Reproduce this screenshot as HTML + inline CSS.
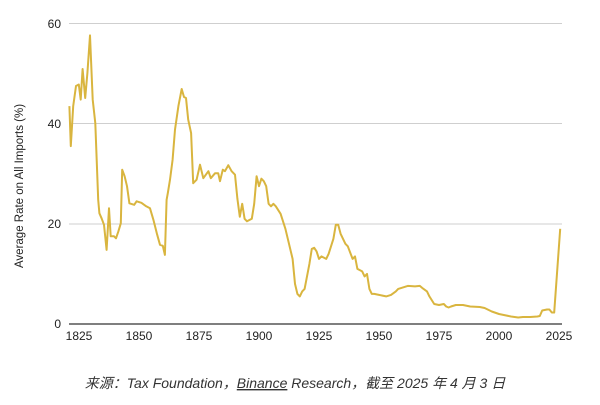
<!DOCTYPE html>
<html><head><meta charset="utf-8"><style>
body{margin:0;background:#fff;width:600px;height:405px;overflow:hidden}
svg{display:block}
text{font-family:"Liberation Sans",Arial,sans-serif;fill:#222}
</style></head><body>
<svg id="c" width="600" height="405" viewBox="0 0 600 405">
<g stroke="#cfcfcf" stroke-width="1">
<line x1="69" y1="23.5" x2="562" y2="23.5"/>
<line x1="69" y1="123.5" x2="562" y2="123.5"/>
<line x1="69" y1="224" x2="562" y2="224"/>
</g>
<line x1="69" y1="324" x2="562" y2="324" stroke="#333" stroke-width="1.2"/>
<g font-size="12" text-anchor="end">
<text x="61" y="28">60</text><text x="61" y="128">40</text><text x="61" y="228">20</text><text x="61" y="328">0</text>
</g>
<g font-size="12" text-anchor="middle">
<text x="79" y="340">1825</text><text x="139" y="340">1850</text><text x="199" y="340">1875</text><text x="259" y="340">1900</text><text x="319" y="340">1925</text><text x="379" y="340">1950</text><text x="439" y="340">1975</text><text x="499" y="340">2000</text><text x="559" y="340">2025</text>
</g>
<text transform="translate(23,186) rotate(-90)" font-size="11.5" text-anchor="middle">Average Rate on All Imports (%)</text>
<polyline id="p" fill="none" stroke="#d9b53f" stroke-width="2" stroke-linejoin="round"/>
<text x="295" y="388" font-size="14" font-style="italic" text-anchor="middle" style="font-family:'Liberation Sans','Noto Sans CJK SC',sans-serif;fill:#333">来源：Tax Foundation，<tspan text-decoration="underline">Binance</tspan> Research，截至 2025 年 4 月 3 日</text>
</svg>
<script>
var d=[1821,43.5,1821.6,35.5,1822.6,43.5,1823.75,47.5,1824.9,47.8,1825.7,44.8,1826.5,50.9,1827.6,45.1,1828.5,50.1,1829.6,57.6,1830.7,44.8,1831.8,40.1,1833,24.8,1833.5,22.1,1834.4,21.1,1835.4,19.8,1836.5,14.8,1837.5,23.1,1838.2,17.5,1839.6,17.5,1840.4,17.1,1841.4,18.5,1842.4,20.1,1843,30.8,1844,29.5,1845,27.5,1846,24.1,1848,23.8,1849,24.5,1851,24.2,1853,23.5,1854.6,23.1,1856,20.8,1857.4,18.1,1858.75,15.8,1859.9,15.6,1860.8,13.8,1861.5,24.8,1862,26.1,1862.9,28.8,1864,32.8,1865,38.8,1866.4,43.5,1867.8,46.9,1868.75,45.3,1869.6,45.1,1870.5,40.8,1871.7,38.1,1872.6,28.1,1874,28.8,1875.4,31.8,1876.8,29.1,1878.9,30.5,1879.9,29.1,1881.7,30.1,1883,30.1,1883.75,28.5,1884.9,30.8,1885.8,30.5,1887.2,31.7,1888.6,30.5,1890,29.8,1891,25,1892,21.4,1893,24,1894,21,1895,20.5,1897,21,1898,24,1899,29.5,1900,27.5,1901,29,1902,28.5,1903,27.5,1904,24,1905,23.5,1906,24,1907,23.5,1909,22,1911,19,1912,17,1914,13,1915,8,1916,6,1917,5.5,1918,6.5,1919,7,1921,12,1922,15,1923,15.2,1924,14.5,1925,13,1926,13.5,1928,13,1929,14,1931,17,1932,19.8,1933,19.8,1934,18,1935,17,1936,16,1937,15.5,1939,13,1940,13.5,1941,11,1943,10.5,1944,9.5,1945,10,1946,7,1947,6,1948,6,1950,5.8,1953,5.5,1955,5.8,1957,6.5,1958,7,1960,7.3,1962,7.6,1965,7.5,1967,7.6,1968,7.2,1970,6.5,1971,5.5,1973,4,1975,3.8,1977,4,1978,3.5,1979,3.3,1980,3.5,1982,3.8,1985,3.8,1988,3.5,1992,3.4,1994,3.2,1997,2.5,2000,2,2002,1.8,2005,1.5,2008,1.3,2010,1.4,2013,1.4,2016,1.5,2017,1.6,2018,2.7,2020,2.9,2021,2.9,2022,2.3,2023,2.3,2025.5,19];
var s=[];for(var i=0;i<d.length;i+=2){s.push((79+(d[i]-1825)*2.4).toFixed(1)+','+(324-d[i+1]*5.01).toFixed(1));}
document.getElementById('p').setAttribute('points',s.join(' '));
</script>
</body></html>
